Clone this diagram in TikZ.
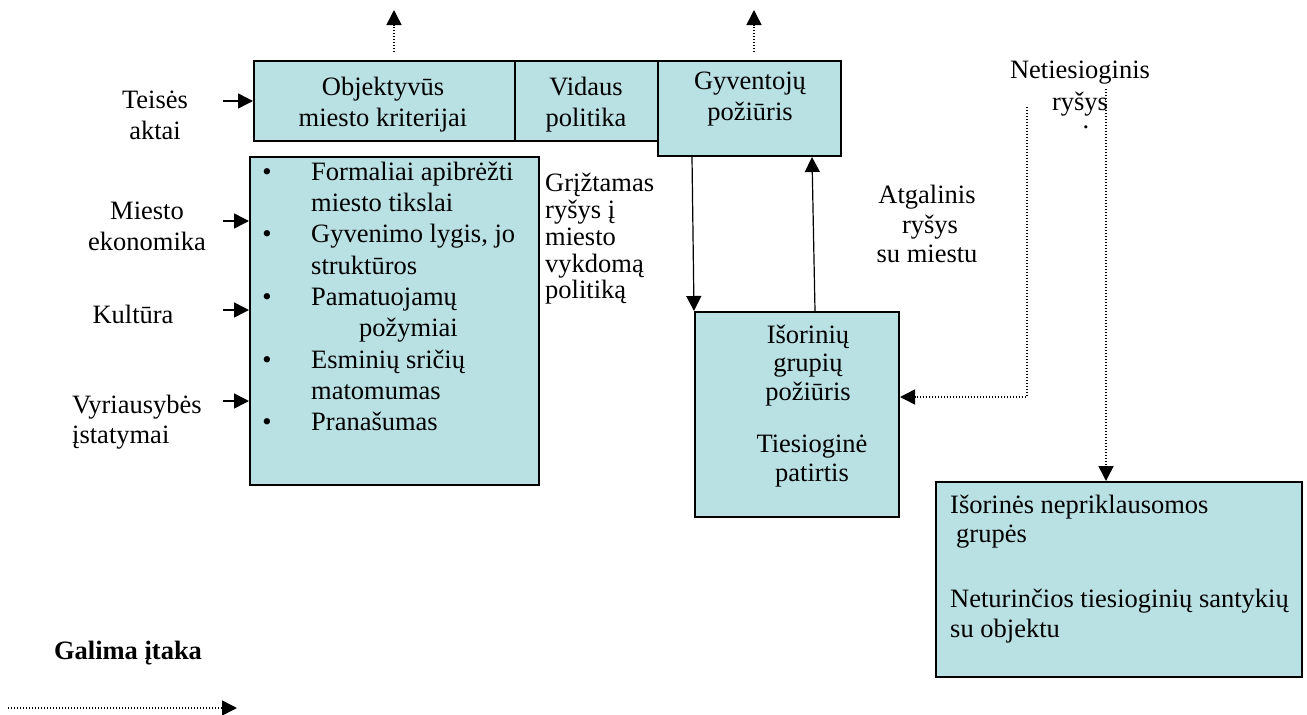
\documentclass[tikz,border=0pt]{standalone}
\usepackage{fontspec}
\setmainfont{Liberation Serif}
\usetikzlibrary{arrows.meta}
\definecolor{boxfill}{RGB}{185,224,227}
\tikzset{
  box/.style={draw=black, line width=2pt, fill=boxfill, anchor=north west, inner sep=0pt},
  txt/.style={inner sep=0pt, font=\fontsize{26.5}{31}\selectfont},
  ctr/.style={txt, anchor=base},
  lft/.style={txt, anchor=base west},
  tip/.style={-{Triangle[length=15pt,width=15pt]}},
  link/.style={tip, line width=1.5pt},
  thinlink/.style={tip, line width=1.2pt},
  hint/.style={tip, line width=1.5pt, dash pattern=on 1.4pt off 1.6pt},
}
\begin{document}
\begin{tikzpicture}[x=1pt, y=-1pt]
\useasboundingbox (0,0) rectangle (1307,715);

% --- boxes ---
\node[box, minimum width=261pt, minimum height=80pt] (obj) at (253,60) {};
\node[box, minimum width=144pt, minimum height=80pt] (vid) at (514,60) {};
\node[box, minimum width=183pt, minimum height=95pt] (gyv) at (657,60) {};
\node[box, minimum width=289pt, minimum height=328pt] (lst) at (249,156) {};
\node[box, minimum width=204pt, minimum height=205pt] (isg) at (694,311) {};
\node[box, minimum width=366pt, minimum height=195pt] (ine) at (935,481) {};

% --- box texts ---
\node[ctr] (obj1) at (383,95) {Objektyvūs};
\node[ctr] (obj2) at (383,126) {miesto kriterijai};
\node[ctr] (vid1) at (586,95) {Vidaus};
\node[ctr] (vid2) at (586,126) {politika};
\node[ctr] (gyv1) at (750,89) {Gyventojų};
\node[ctr] (gyv2) at (750,120) {požiūris};

\node[ctr] (bu1) at (267,180) {•};
\node[ctr] (bu2) at (267,242) {•};
\node[ctr] (bu3) at (267,305) {•};
\node[ctr] (bu4) at (267,368) {•};
\node[ctr] (bu5) at (267,430) {•};
\node[lft] (li1) at (311,180) {Formaliai apibrėžti};
\node[lft] (li2) at (311,211) {miesto tikslai};
\node[lft] (li3) at (311,242) {Gyvenimo lygis, jo};
\node[lft] (li4) at (311,274) {struktūros};
\node[lft] (li5) at (311,305) {Pamatuojamų};
\node[lft] (li6) at (359,336) {požymiai};
\node[lft] (li7) at (311,368) {Esminių sričių};
\node[lft] (li8) at (311,399) {matomumas};
\node[lft] (li9) at (311,430) {Pranašumas};

\node[ctr] (isg1) at (808,343) {Išorinių};
\node[ctr] (isg2) at (808,371) {grupių};
\node[ctr] (isg3) at (808,400) {požiūris};
\node[ctr] (isg4) at (812,452) {Tiesioginė};
\node[ctr] (isg5) at (812,481) {patirtis};

\node[lft] (ine1) at (950,513) {Išorinės nepriklausomos};
\node[lft] (ine2) at (956,542) {grupės};
\node[lft] (ine3) at (950,607) {Neturinčios tiesioginių santykių};
\node[lft] (ine4) at (950,637) {su objektu};

% --- free labels ---
\node[ctr] (tei1) at (155,108) {Teisės};
\node[ctr] (tei2) at (155,139) {aktai};
\node[ctr] (mie1) at (147,219) {Miesto};
\node[ctr] (mie2) at (147,250) {ekonomika};
\node[ctr] (kul) at (133,323) {Kultūra};
\node[lft] (vyr1) at (72,413) {Vyriausybės};
\node[lft] (vyr2) at (72,443) {įstatymai};

\node[lft] (gr1) at (545,191) {Grįžtamas};
\node[lft] (gr2) at (545,218) {ryšys į};
\node[lft] (gr3) at (545,245) {miesto};
\node[lft] (gr4) at (545,272) {vykdomą};
\node[lft] (gr5) at (545,298) {politiką};

\node[ctr] (atg1) at (927,203) {Atgalinis};
\node[ctr] (atg2) at (930,233) {ryšys};
\node[ctr] (atg3) at (927,262) {su miestu};

\node[ctr] (net1) at (1080,78) {Netiesioginis};
\node[ctr] (net2) at (1080,110) {ryšys};
\node[ctr] (net3) at (1086,128) {.};

\node[txt, anchor=base, font=\fontsize{26.5}{31}\selectfont\bfseries] (leg) at (128,659) {Galima įtaka};

% --- inputs on the left ---
\coordinate (in1) at (223,101);
\coordinate (in2) at (223,221);
\coordinate (in3) at (223,310);
\coordinate (in4) at (223,401);
\draw[link] (in1) -- (in1 -| obj.west);
\draw[link] (in2) -- (in2 -| lst.west);
\draw[link] (in3) -- (in3 -| lst.west);
\draw[link] (in4) -- (in4 -| lst.west);

% --- feedback between residents and outside groups ---
\draw[thinlink] ([xshift=35pt]gyv.south west) -- (isg.north west);
\draw[thinlink] ([xshift=121pt]isg.north west) -- ([xshift=155pt]gyv.south west);

% --- possible influence (dotted) ---
\coordinate (up1) at (394,52);
\coordinate (up1t) at (394,10);
\coordinate (up2) at (754,52);
\coordinate (up2t) at (754,10);
\draw[hint] (up1) -- (up1t);
\draw[hint] (up2) -- (up2t);

\coordinate (nd1) at (1027,107);
\coordinate (nd1b) at (1027,397);
\draw[hint] (nd1) -- (nd1b) -- (nd1b -| isg.east);
\coordinate (nd2) at (1106,89);
\draw[hint] (nd2) -- (nd2 |- ine.north);

\coordinate (lg1) at (8,708);
\coordinate (lg2) at (237,708);
\draw[hint] (lg1) -- (lg2);
\end{tikzpicture}
\end{document}
